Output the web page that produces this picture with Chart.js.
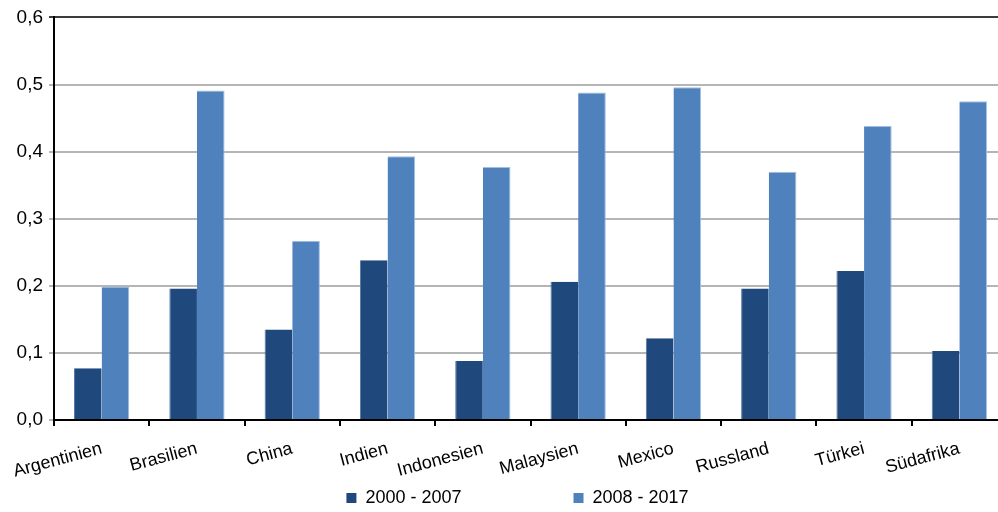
<!DOCTYPE html>
<html>
<head>
<meta charset="utf-8">
<script src="https://cdn.jsdelivr.net/npm/chart.js@4.4.1/dist/chart.umd.min.js"></script>
<style>
  html, body { margin: 0; padding: 0; background: #ffffff; overflow: hidden; }
  #wrap { position: relative; width: 1007px; height: 512px; }
</style>
</head>
<body>
<div id="wrap"><canvas id="chart"></canvas></div>
<script>
// Categories, series and tick labels
const countries = ['Argentinien', 'Brasilien', 'China', 'Indien', 'Indonesien',
                   'Malaysien', 'Mexico', 'Russland', 'Türkei', 'Südafrika'];
const seriesNames = ['2000 - 2007', '2008 - 2017'];
const values2000to2007 = [0.077, 0.196, 0.135, 0.238, 0.088, 0.206, 0.122, 0.196, 0.222, 0.103];
const values2008to2017 = [0.199, 0.491, 0.267, 0.393, 0.377, 0.488, 0.496, 0.370, 0.438, 0.475];
const yTickLabels = ['0,0', '0,1', '0,2', '0,3', '0,4', '0,5', '0,6'];

const FONT = 'Liberation Sans, Arial, sans-serif';

// Moves the legend row under the rotated category labels, slightly right of centre
const legendPlacement = {
  id: 'legendPlacement',
  afterLayout(chart) {
    const lg = chart.legend;
    if (!lg) return;
    const pad = lg.options.labels.padding;
    const h = lg.bottom - lg.top;
    lg.left += 14;
    lg.right += 14;
    lg.top = lg.top + 7 - pad;
    lg.bottom = lg.top + pad + h;
  }
};

new Chart(document.getElementById('chart'), {
  type: 'bar',
  data: {
    labels: countries,
    datasets: [
      {
        label: seriesNames[0],
        data: values2000to2007,
        backgroundColor: '#1F497D',
        borderColor: '#5577a3',
        borderWidth: { left: 1, top: 0, right: 0, bottom: 0 },
        borderSkipped: false,
        categoryPercentage: 0.58,
        barPercentage: 1.0
      },
      {
        label: seriesNames[1],
        data: values2008to2017,
        backgroundColor: '#4F81BD',
        borderColor: '#a3bfe2',
        borderWidth: { left: 0, top: 1, right: 1, bottom: 0 },
        borderSkipped: false,
        categoryPercentage: 0.58,
        barPercentage: 1.0
      }
    ]
  },
  options: {
    responsive: true,
    maintainAspectRatio: false,
    animation: false,
    layout: { padding: { top: 16, left: 0, right: 0, bottom: 0 } },
    plugins: {
      tooltip: { enabled: false },
      legend: {
        position: 'bottom',
        maxHeight: 30,
        labels: {
          boxWidth: 10,
          boxHeight: 10,
          padding: 112,
          color: '#000000',
          font: { family: FONT, size: 18 },
          generateLabels(chart) {
            const items = Chart.defaults.plugins.legend.labels.generateLabels(chart);
            items.forEach(it => { it.lineWidth = 0; it.strokeStyle = it.fillStyle; });
            return items;
          }
        }
      }
    },
    scales: {
      x: {
        offset: true,
        grid: {
          offset: true,
          drawOnChartArea: false,
          drawTicks: true,
          tickLength: 6,
          color: '#000000',
          lineWidth: 2
        },
        border: { display: true, color: '#000000', width: 2 },
        ticks: {
          autoSkip: false,
          minRotation: 15,
          maxRotation: 15,
          padding: 12,
          color: '#000000',
          font: { family: FONT, size: 18 }
        },
        afterFit(scale) {
          scale.height = 62;
          scale.paddingLeft = 0;
          scale.paddingRight = 0;
        }
      },
      y: {
        min: 0,
        max: 0.6,
        ticks: {
          stepSize: 0.1,
          padding: 6,
          color: '#000000',
          font: { family: FONT, size: 19 },
          callback: (value, index) => yTickLabels[index]
        },
        grid: {
          drawTicks: true,
          tickLength: 5,
          lineWidth: 2,
          color: ctx => (ctx.tick && ctx.tick.value > 0.59) ? '#3c3c3c' : '#b5b5b5'
        },
        border: { display: true, color: '#000000', width: 2 },
        afterFit(scale) {
          scale.width = 54;
        }
      }
    }
  },
  plugins: [legendPlacement]
});
</script>
</body>
</html>
